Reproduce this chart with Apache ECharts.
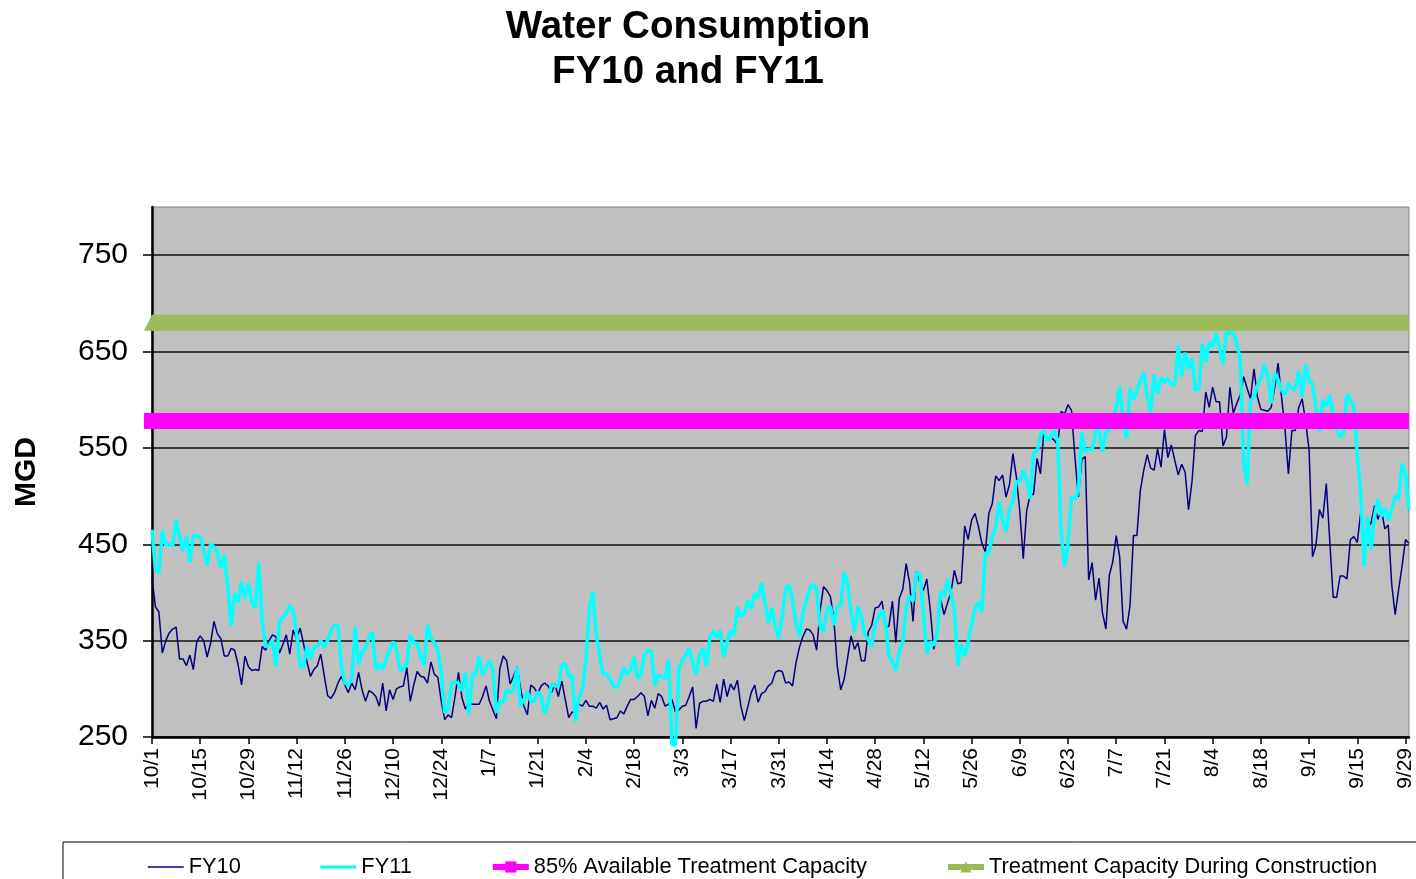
<!DOCTYPE html>
<html>
<head>
<meta charset="utf-8">
<title>Water Consumption FY10 and FY11</title>
<script src="https://cdn.jsdelivr.net/npm/echarts@6/dist/echarts.min.js"></script>
<style>
  html, body { margin: 0; padding: 0; background: #fff; }
  #chart { width: 1416px; height: 879px; }
</style>
</head>
<body>
<div id="chart"></div>
<script>
// daily categories, 10/1 .. 9/30 (leap year, 366 days)
const categories = []
for (let t = Date.UTC(2011, 9, 1); t <= Date.UTC(2012, 8, 30); t += 86400000) {
  const d = new Date(t)
  categories.push((d.getUTCMonth() + 1) + '/' + d.getUTCDate())
}

const tickLabels = ['10/1', '10/15', '10/29', '11/12', '11/26', '12/10', '12/24', '1/7', '1/21',
  '2/4', '2/18', '3/3', '3/17', '3/31', '4/14', '4/28', '5/12', '5/26', '6/9', '6/23', '7/7',
  '7/21', '8/4', '8/18', '9/1', '9/15', '9/29']

// MGD
const fy10 = [
  416, 385, 380, 337, 350, 358, 362, 364, 331, 331, 324, 335, 320, 349, 355, 350, 333, 347, 370, 357,
  352, 334, 334, 342, 340, 325, 304, 334, 323, 319, 320, 319, 344, 340, 350, 356, 354, 337, 346, 356,
  336, 361, 352, 363, 347, 328, 313, 320, 324, 336, 314, 293, 290,
  296, 306, 313, 304, 296, 306, 299, 317, 299, 287, 298, 296, 292, 282, 306, 277, 299, 289, 300, 302,
  303, 322, 287, 304, 318, 313, 312, 306, 328, 315, 312, 287, 268, 273, 270, 292, 317, 291, 279, 285,
  284, 284, 284, 292, 303, 287, 278, 269, 321, 334, 329, 305, 313, 323,
  301, 282, 273, 304, 301, 295, 303, 306, 303, 296, 305, 292, 308, 289, 270, 276, 274, 284, 282, 288,
  282, 282, 280, 286, 279, 283, 268, 269, 270, 277, 274, 282, 289, 289, 292, 296, 292, 272, 288, 280,
  295, 292, 282, 284, 289, 276, 278, 282, 283, 292, 302, 259, 285, 287,
  287, 289, 287, 305, 286, 310, 292, 305, 299, 309, 282, 267, 281, 296, 304, 286, 295, 297, 303, 306,
  317, 319, 318, 306, 307, 303, 327, 343, 354, 362, 361, 356, 340, 381, 406, 402, 396, 372, 323, 299,
  310, 332, 355, 341, 348, 329, 329, 359, 366, 384, 385, 391, 364, 365,
  391, 348, 394, 403, 430, 410, 370, 422, 410, 402, 414, 382, 341, 358, 393, 377, 389, 400, 423, 409,
  410, 469, 455, 475, 482, 468, 451, 442, 482, 492, 521, 516, 522, 499, 512, 544, 520, 484, 435, 485,
  501, 502, 539, 523, 568, 559, 561, 558, 553, 588, 585, 595, 589,
  541, 499, 538, 541, 413, 431, 392, 415, 379, 362, 418, 432, 459, 437, 370, 362, 386, 459, 459, 506,
  527, 543, 529, 527, 549, 530, 569, 540, 553, 537, 522, 533, 525, 486, 515, 563, 568, 567, 608, 592,
  613, 598, 598, 552, 561, 613, 586, 596, 605, 624, 612, 601, 632, 603,
  590, 589, 588, 592, 612, 638, 603, 570, 523, 568, 568, 592, 601, 577, 548, 437, 449, 486, 477, 513,
  454, 395, 395, 417, 417, 414, 455, 458, 452, 483, 454, 467, 472, 490, 476, 486, 466, 470, 408, 377,
  403, 427, 455, 451
]

const fy11 = [
  465, 423, 421, 464, 449, 451, 448, 475, 458, 443, 458, 431, 460, 458, 458, 444, 428, 451, 447, 441,
  425, 439, 406, 365, 399, 390, 411, 394, 410, 389, 384, 431, 371, 344, 345, 351, 323, 369, 375, 378,
  387, 381, 357, 324, 323, 345, 331, 343, 344, 350, 343, 350, 361,
  366, 366, 323, 306, 304, 310, 364, 325, 338, 342, 353, 359, 320, 326, 320, 332, 340, 349, 341, 319,
  321, 327, 356, 348, 347, 334, 324, 366, 353, 348, 340, 317, 275, 279, 306, 307, 306, 298, 317, 273,
  315, 315, 334, 314, 322, 329, 320, 275, 287, 286, 299, 296, 299, 323,
  282, 289, 297, 287, 287, 297, 292, 274, 285, 305, 303, 303, 325, 326, 313, 314, 266, 292, 299, 330,
  384, 401, 356, 334, 315, 316, 310, 303, 301, 310, 322, 315, 320, 333, 311, 315, 335, 340, 339, 303,
  314, 313, 311, 330, 242, 242, 320, 330, 335, 342, 327, 315, 336, 342, 323,
  354, 360, 353, 361, 333, 349, 360, 356, 385, 375, 378, 392, 383, 399, 394, 410, 389, 368, 384, 365,
  352, 375, 404, 408, 392, 368, 354, 379, 391, 404, 409, 403, 365, 359, 382, 386, 366, 385, 387, 421,
  410, 379, 359, 386, 375, 356, 351, 344, 367, 374, 382, 368, 334, 328,
  319, 339, 348, 385, 396, 391, 421, 418, 379, 336, 349, 345, 358, 401, 396, 414, 399, 382, 324, 346,
  334, 349, 367, 383, 390, 380, 441, 440, 458, 468, 494, 475, 463, 487, 494, 515, 515, 527, 516, 497,
  546, 546, 564, 568, 557, 561, 568, 558, 463, 427, 451, 499,
  497, 505, 566, 546, 549, 548, 567, 569, 546, 567, 568, 582, 592, 614, 577, 560, 612, 600, 610, 620,
  628, 603, 587, 626, 606, 623, 618, 622, 616, 615, 656, 624, 649, 632, 643, 610, 612, 658, 639, 660,
  655, 669, 654, 637, 670, 669, 670, 658, 642, 534, 513, 599, 603, 615,
  622, 636, 625, 596, 628, 621, 610, 605, 617, 612, 610, 630, 603, 637, 619, 617, 592, 567, 600, 593,
  605, 584, 570, 561, 565, 606, 600, 592, 542, 503, 427, 479, 445, 479, 497, 479, 488, 475, 486, 501,
  497, 534, 523, 486
]

const capacity85 = 578
const capacityConstruction = 680

const yTicks = [250, 350, 450, 550, 650, 750]

const FONT = 'Liberation Sans, Arial, sans-serif'
const firstDay = categories[0]
const lastDay = categories[categories.length - 1]
const showTick = (index, value) => tickLabels.indexOf(value) !== -1

const chart = echarts.init(document.getElementById('chart'))

chart.setOption({
  animation: false,
  backgroundColor: '#fff',
  title: {
    text: 'Water Consumption\nFY10 and FY11',
    left: 683,
    top: 0,
    textAlign: 'center',
    textStyle: {
      fontFamily: FONT,
      fontSize: 38.5,
      fontWeight: 'bold',
      lineHeight: 45,
      color: '#000'
    }
  },
  legend: {
    left: 63,
    top: 842,
    width: 1330,
    padding: [14, 80, 40, 84],
    itemGap: 78,
    itemWidth: 36,
    itemHeight: 14,
    borderColor: '#000',
    borderWidth: 1,
    selectedMode: false,
    textStyle: { fontFamily: FONT, fontSize: 21.8, color: '#000' },
    data: [
      { name: 'FY10', itemStyle: { opacity: 0 }, lineStyle: { width: 1.5 } },
      { name: 'FY11', itemStyle: { opacity: 0 }, lineStyle: { width: 3 } },
      { name: '85% Available Treatment Capacity', lineStyle: { width: 6 } },
      { name: 'Treatment Capacity During Construction', lineStyle: { width: 6 } }
    ]
  },
  grid: {
    left: 152,
    top: 207,
    width: 1258,
    height: 530,
    show: true,
    backgroundColor: '#C0C0C0',
    borderColor: '#808080',
    borderWidth: 1
  },
  xAxis: {
    type: 'category',
    data: categories,
    boundaryGap: false,
    axisLine: { lineStyle: { color: '#000', width: 2.5 } },
    axisTick: { interval: showTick, length: 7, lineStyle: { color: '#000', width: 1.5 } },
    axisLabel: {
      interval: showTick,
      rotate: 90,
      margin: 11,
      fontFamily: FONT,
      fontSize: 21,
      color: '#000'
    },
    splitLine: { show: false }
  },
  yAxis: {
    type: 'value',
    min: yTicks[0],
    max: 800,
    interval: 100,
    name: 'MGD',
    nameLocation: 'middle',
    nameGap: 110,
    nameTextStyle: { fontFamily: FONT, fontSize: 30, fontWeight: 'bold', color: '#000' },
    axisLine: { show: true, lineStyle: { color: '#000', width: 2.5 } },
    axisTick: { show: true, length: 9, lineStyle: { color: '#000', width: 1.5 } },
    axisLabel: {
      margin: 24,
      showMaxLabel: false,
      fontFamily: FONT,
      fontSize: 30,
      color: '#000'
    },
    splitLine: { show: true, showMaxLine: false, lineStyle: { color: '#111', width: 1.5 } }
  },
  series: [
    {
      name: 'FY10',
      type: 'line',
      data: fy10,
      symbol: 'none',
      itemStyle: { color: '#000080' },
      lineStyle: { color: '#000080', width: 1.5 },
      z: 2
    },
    {
      name: 'FY11',
      type: 'line',
      data: fy11,
      symbol: 'none',
      clip: false,
      itemStyle: { color: '#00FFFF' },
      lineStyle: { color: '#00FFFF', width: 3.5 },
      z: 3
    },
    {
      name: '85% Available Treatment Capacity',
      type: 'line',
      data: [[firstDay, capacity85], [lastDay, capacity85]],
      symbol: 'rect',
      symbolSize: 16,
      clip: false,
      silent: true,
      itemStyle: { color: '#FF00FF' },
      lineStyle: { color: '#FF00FF', width: 16 },
      z: 4
    },
    {
      name: 'Treatment Capacity During Construction',
      type: 'line',
      data: [[firstDay, capacityConstruction], [lastDay, capacityConstruction]],
      symbol: 'triangle',
      symbolSize: 16,
      clip: false,
      silent: true,
      itemStyle: { color: '#9BBB59' },
      lineStyle: { color: '#9BBB59', width: 16 },
      z: 4
    }
  ]
})
</script>
</body>
</html>
